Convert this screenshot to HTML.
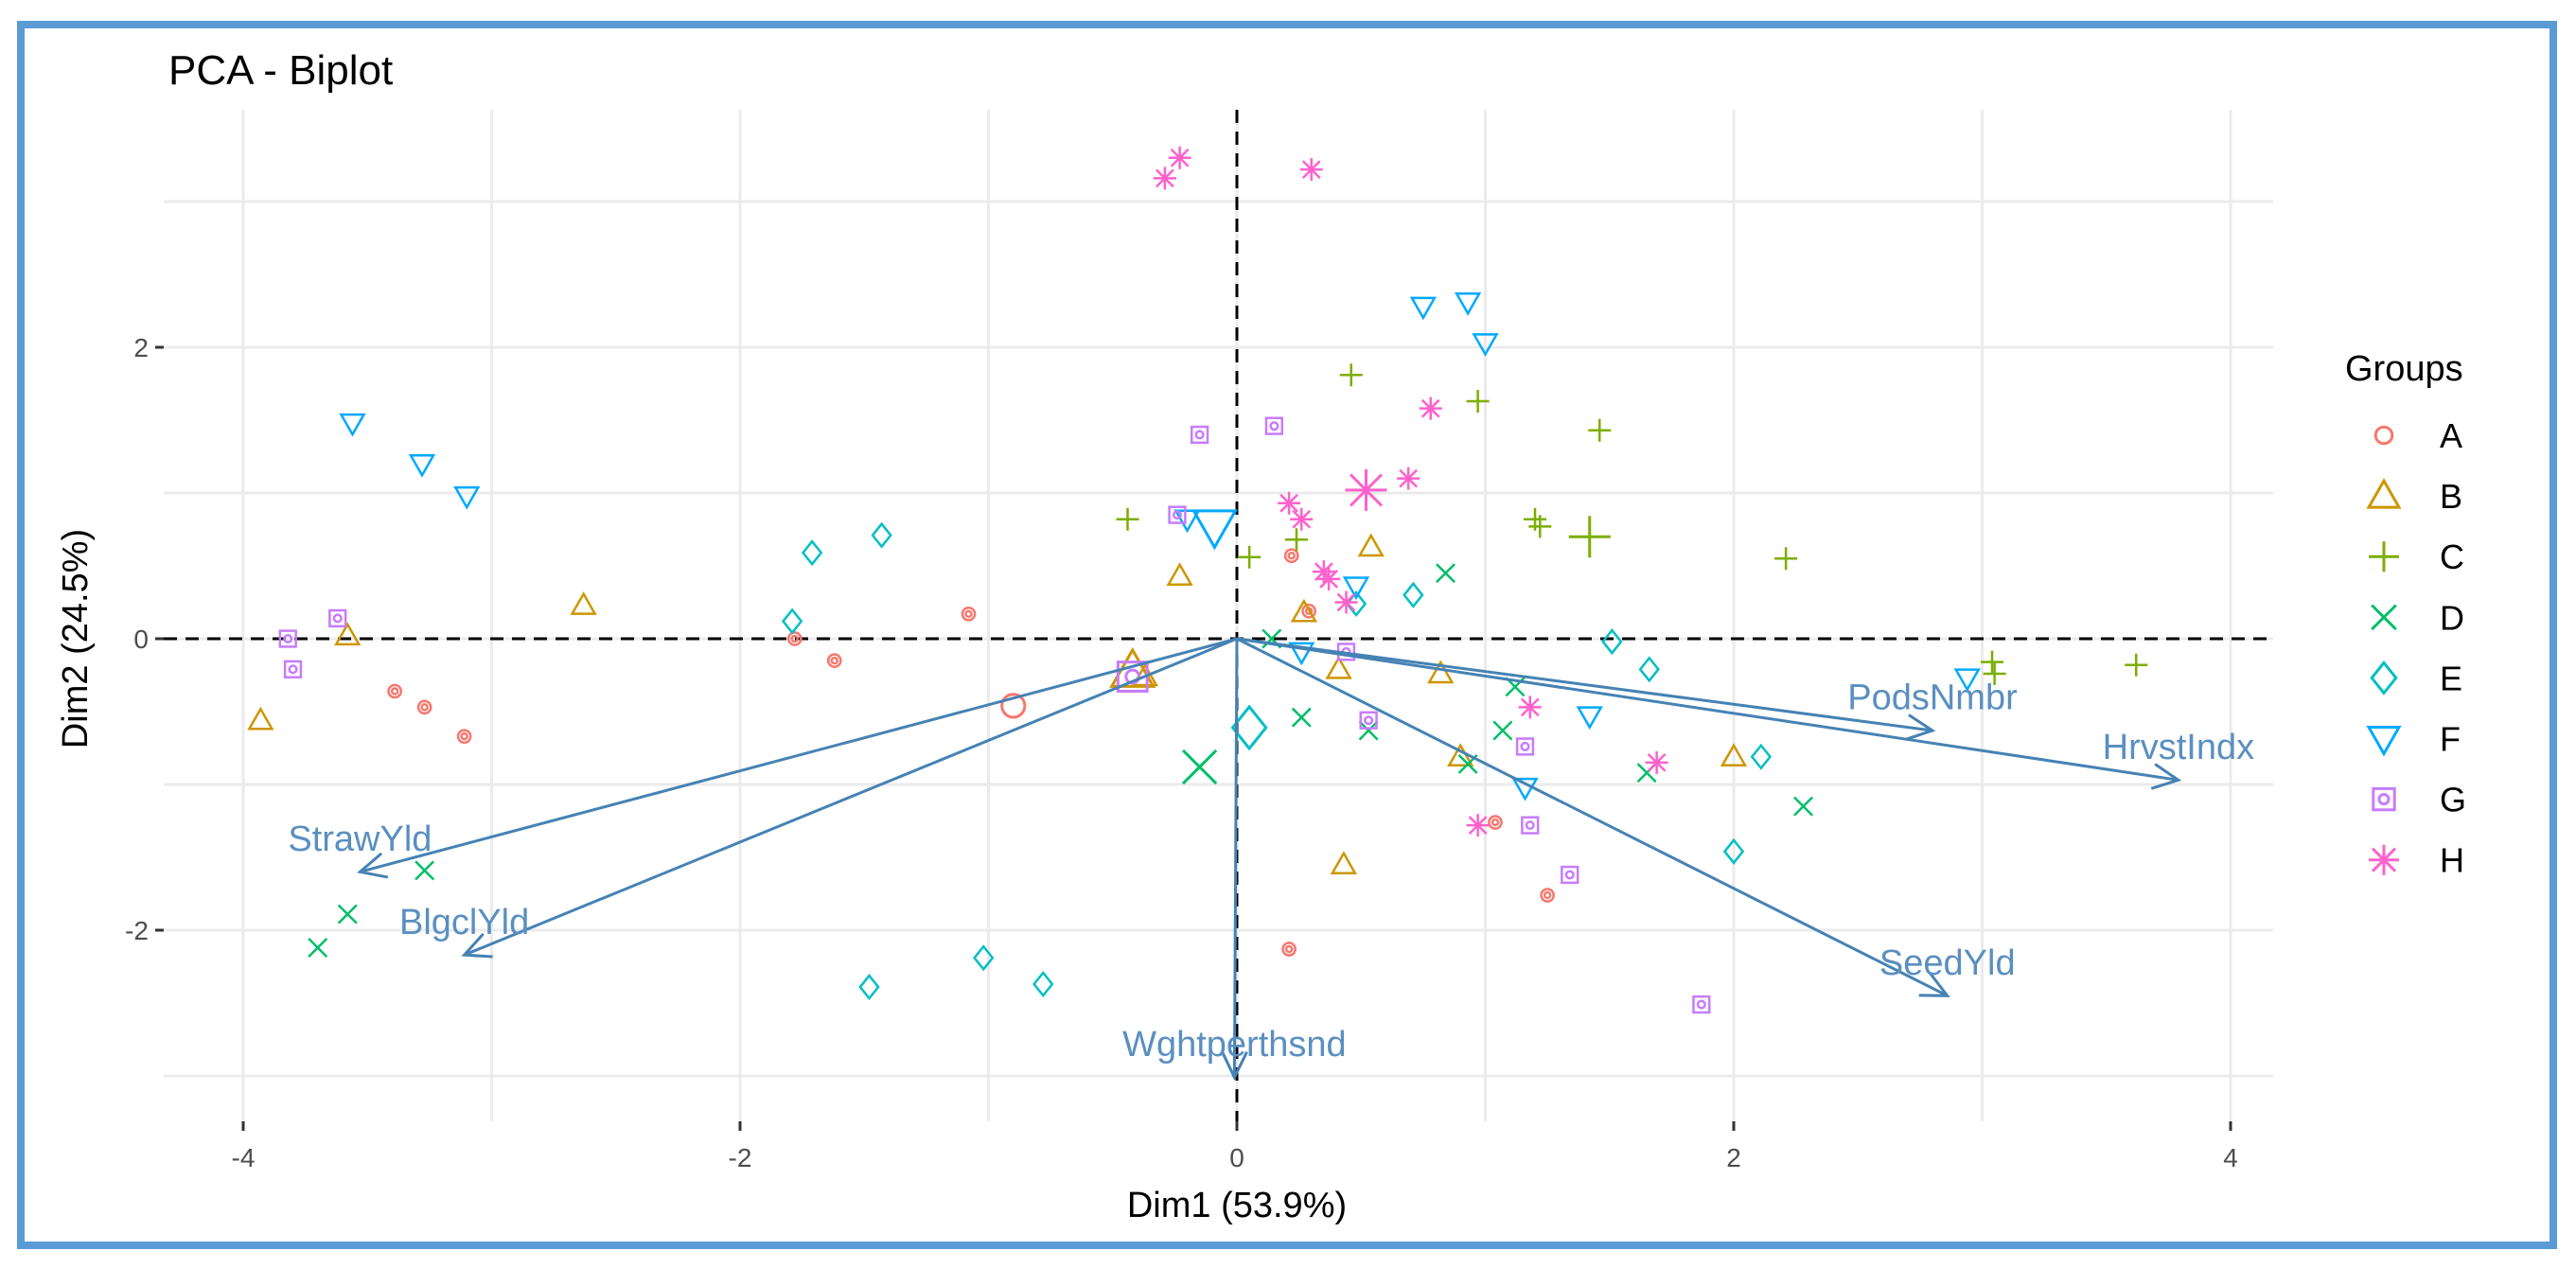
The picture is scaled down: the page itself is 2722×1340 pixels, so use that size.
<!DOCTYPE html>
<html><head><meta charset="utf-8"><style>
html,body{margin:0;padding:0;background:#fff;}
svg{display:block;font-family:"Liberation Sans",Arial,sans-serif;}
</style></head><body>
<svg id="chart" width="2722" height="1340" viewBox="0 0 2722 1340" xmlns="http://www.w3.org/2000/svg">
<rect x="0" y="0" width="2722" height="1340" fill="#fff"/>
<rect x="22" y="26" width="2676" height="1290" fill="none" stroke="#5b9bd5" stroke-width="8"/>
<text x="178" y="89" font-size="44" fill="#000">PCA - Biplot</text>
<g id="grid"></g>
<g id="refs"></g>
<g id="pts"></g>
<g id="arrows"></g>
<g id="axes"></g>
<g id="legend"></g>
</svg>
<script>
const groups=["A","B","C","D","E","F","G","H"];
const colors=["#F8766D","#CD9600","#7CAE00","#00BE67","#00BFC4","#00A9FF","#C77CFF","#FF61CC"];
const shapes=["circle","triangle","plus","cross","diamond","downtri","square","star"];
const ptsA=[[-1.08,0.17],[-1.78,0.0],[-1.62,-0.15],[-3.39,-0.36],[-3.27,-0.47],[-3.11,-0.67],[0.22,0.57],[0.29,0.19],[1.04,-1.26],[1.25,-1.76],[0.21,-2.13]];
const ptsB=[[-2.63,0.23],[-3.58,0.02],[-3.93,-0.56],[-0.23,0.43],[0.54,0.63],[0.27,0.18],[0.41,-0.21],[0.82,-0.24],[0.90,-0.81],[2.0,-0.81],[0.43,-1.55],[-0.37,-0.26]];
const ptsC=[[-0.44,0.82],[0.05,0.56],[0.24,0.68],[0.46,1.81],[0.97,1.63],[1.46,1.43],[1.20,0.82],[1.22,0.77],[2.21,0.55],[3.04,-0.16],[3.05,-0.24],[3.62,-0.18]];
const ptsD=[[0.14,0.0],[0.26,-0.54],[0.53,-0.63],[0.84,0.45],[0.93,-0.86],[1.12,-0.33],[1.07,-0.63],[1.65,-0.92],[2.28,-1.15],[-3.27,-1.59],[-3.58,-1.89],[-3.70,-2.12]];
const ptsE=[[-1.71,0.59],[-1.43,0.71],[-1.79,0.12],[0.48,0.24],[0.71,0.30],[1.51,-0.02],[1.66,-0.21],[2.11,-0.81],[2.0,-1.46],[-1.02,-2.19],[-0.78,-2.37],[-1.48,-2.39]];
const ptsF=[[-3.56,1.48],[-3.28,1.20],[-3.10,0.98],[0.75,2.28],[0.93,2.31],[1.0,2.03],[0.48,0.36],[0.26,-0.09],[1.42,-0.53],[1.16,-1.02],[2.94,-0.27],[-0.2,0.82]];
const ptsG=[[-0.15,1.40],[0.15,1.46],[-0.24,0.85],[-3.62,0.14],[-3.82,0.0],[-3.80,-0.21],[0.44,-0.09],[0.53,-0.56],[1.16,-0.74],[1.18,-1.28],[1.34,-1.62],[1.87,-2.51]];
const ptsH=[[-0.29,3.16],[-0.23,3.30],[0.30,3.22],[0.78,1.58],[0.69,1.10],[0.21,0.93],[0.26,0.82],[0.35,0.46],[0.37,0.41],[0.44,0.25],[1.18,-0.47],[1.69,-0.85],[0.97,-1.28]];
const groupMeans=[[-0.90,-0.46],[-0.42,-0.22],[1.42,0.70],[-0.15,-0.88],[0.05,-0.61],[-0.09,0.77],[-0.42,-0.26],[0.52,1.02]];
const varNames=["StrawYld","BlgclYld","Wghtperthsnd","PodsNmbr","HrvstIndx","SeedYld"];
const varX=[-3.53,-3.11,-0.01,2.80,3.79,2.86];
const varY=[-1.60,-2.17,-3.01,-0.63,-0.97,-2.45];
const xTicks=[-4,-2,0,2,4];
const yTicks=[-2,0,2];
const xLabel="Dim1 (53.9%)", yLabel="Dim2 (24.5%)";

const P={l:173,r:2402,t:116,b:1185};
const X=v=>1307+v*262.5;
const Y=v=>675-v*154;
const NS="http://www.w3.org/2000/svg";
function mk(tag,attrs,parent){const e=document.createElementNS(NS,tag);for(const k in attrs)e.setAttribute(k,attrs[k]);parent.appendChild(e);return e;}
const grid=document.getElementById('grid');
for(let v=-4;v<=4;v++){const l=mk('line',{x1:X(v),x2:X(v),y1:P.t,y2:P.b,stroke:'#ebebeb','stroke-width':3},grid);

}
for(let v=-3;v<=3;v++){const l=mk('line',{x1:P.l,x2:P.r,y1:Y(v),y2:Y(v),stroke:'#ebebeb','stroke-width':3},grid);

}
const refs=document.getElementById('refs');
const h0=mk('line',{x1:P.l,x2:P.r,y1:Y(0),y2:Y(0),stroke:'#000','stroke-width':3,'stroke-dasharray':'14,9'},refs);


const v0=mk('line',{x1:X(0),x2:X(0),y1:P.t,y2:P.b,stroke:'#000','stroke-width':3,'stroke-dasharray':'14,9'},refs);



function marker(shape,cx,cy,s,col,parent){
 const g=mk('g',{fill:'none',stroke:col,'stroke-width':s>15?3:2.5},parent);
 if(shape==='circle'){mk('circle',{cx,cy,r:s*0.55},g);if(s<15)mk('circle',{cx,cy,r:s*0.25},g);}
 else if(shape==='triangle'){mk('polygon',{points:`${cx},${cy-s} ${cx-s},${cy+s*0.75} ${cx+s},${cy+s*0.75}`},g);}
 else if(shape==='downtri'){mk('polygon',{points:`${cx},${cy+s} ${cx-s},${cy-s*0.75} ${cx+s},${cy-s*0.75}`},g);}
 else if(shape==='plus'){mk('path',{d:`M${cx-s} ${cy}H${cx+s}M${cx} ${cy-s}V${cy+s}`},g);}
 else if(shape==='cross'){const d=s*0.8;mk('path',{d:`M${cx-d} ${cy-d}L${cx+d} ${cy+d}M${cx-d} ${cy+d}L${cx+d} ${cy-d}`},g);}
 else if(shape==='diamond'){mk('polygon',{points:`${cx},${cy-s} ${cx+s*0.8},${cy} ${cx},${cy+s} ${cx-s*0.8},${cy}`},g);}
 else if(shape==='square'){const d=s*0.7;mk('rect',{x:cx-d,y:cy-d,width:2*d,height:2*d},g);mk('circle',{cx,cy,r:d*0.45},g);}
 else if(shape==='star'){const d=s*0.75;mk('path',{d:`M${cx-s} ${cy}H${cx+s}M${cx} ${cy-s}V${cy+s}M${cx-d} ${cy-d}L${cx+d} ${cy+d}M${cx-d} ${cy+d}L${cx+d} ${cy-d}`},g);}
 return g;
}
const pts=document.getElementById('pts');
const allPts=[ptsA,ptsB,ptsC,ptsD,ptsE,ptsF,ptsG,ptsH];
allPts.forEach((arr,gi)=>{arr.forEach(p=>{const m=marker(shapes[gi],X(p[0]),Y(p[1]),12,colors[gi],pts);

});
const mm=groupMeans[gi];const m=marker(shapes[gi],X(mm[0]),Y(mm[1]),22,colors[gi],pts);

});

const arrows=document.getElementById('arrows');
varNames.forEach((n,i)=>{
 const x1=X(0),y1=Y(0),x2=X(varX[i]),y2=Y(varY[i]);
 const g=mk('g',{stroke:'#4682B4','stroke-width':3,fill:'none'},arrows);
 
 
 mk('line',{x1,y1,x2,y2},g);
 const a=Math.atan2(y2-y1,x2-x1),L=30,w=0.45;
 mk('path',{d:`M${x2-L*Math.cos(a-w)} ${y2-L*Math.sin(a-w)}L${x2} ${y2}L${x2-L*Math.cos(a+w)} ${y2-L*Math.sin(a+w)}`},g);
 const t=mk('text',{x:X(varX[i]),y:Y(varY[i]+0.23)+13,'text-anchor':'middle','font-size':38,fill:'#5a8fc0'},arrows);
 t.textContent=n;
 
 
});

const axes=document.getElementById('axes');
xTicks.forEach(v=>{const l=mk('line',{x1:X(v),x2:X(v),y1:P.b,y2:P.b+10,stroke:'#333','stroke-width':3},axes);


const t=mk('text',{x:X(v),y:P.b+48,'text-anchor':'middle','font-size':28,fill:'#4d4d4d'},axes);t.textContent=v;

});
yTicks.forEach(v=>{const l=mk('line',{x1:P.l-9,x2:P.l,y1:Y(v),y2:Y(v),stroke:'#333','stroke-width':3},axes);


const t=mk('text',{x:P.l-16,y:Y(v)+10,'text-anchor':'end','font-size':28,fill:'#4d4d4d'},axes);t.textContent=v;

});
const xt=mk('text',{x:1307,y:1286,'text-anchor':'middle','font-size':38,fill:'#000'},axes);xt.textContent=xLabel;


const yt=mk('text',{x:0,y:0,'text-anchor':'middle','font-size':38,fill:'#000',transform:'translate(92,675) rotate(-90)'},axes);yt.textContent=yLabel;



const leg=document.getElementById('legend');
const lt=mk('text',{x:2478,y:402,'font-size':38,fill:'#000'},leg);lt.textContent='Groups';


groups.forEach((g,i)=>{const cy=460+i*64.1;
const m=marker(shapes[i],2519,cy,16,colors[i],leg);


const t=mk('text',{x:2578,y:cy+13,'font-size':36,fill:'#000'},leg);t.textContent=g;

});
</script>
</body></html>
